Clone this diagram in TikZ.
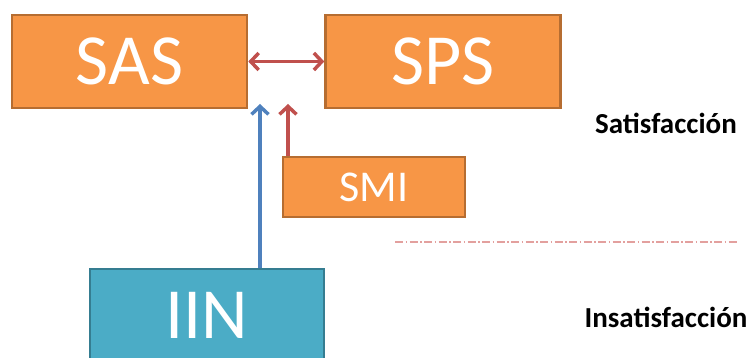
\documentclass[tikz,border=0pt]{standalone}
\usepackage{fontspec}
\setmainfont{Carlito}
\usepackage{tikz}
\usetikzlibrary{arrows.meta,positioning}
\definecolor{boxorange}{HTML}{F79646}
\definecolor{edgeorange}{HTML}{B66D31}
\definecolor{boxteal}{HTML}{4BACC6}
\definecolor{edgeteal}{HTML}{357D91}
\definecolor{arrowblue}{HTML}{4F81BD}
\definecolor{arrowred}{HTML}{C0504D}
\definecolor{splitpink}{HTML}{E3A09E}

\begin{document}
\begin{tikzpicture}[
    x=1pt, y=1pt,
    block/.style={draw=edgeorange, fill=boxorange, line width=2.6pt,
                  minimum width=235pt, minimum height=93pt, inner sep=0pt,
                  text=white, font=\fontsize{72}{72}\selectfont},
    level/.style={font=\fontsize{29}{29}\selectfont\bfseries, anchor=base},
    link/.style={line width=3.5pt},
    >={Straight Barb[length=8pt,width=17pt,line width=3.5pt]},
]
  \useasboundingbox (0,0) rectangle (753,358);

  % boxes
  \node[block] (SAS) at (129.5,296.5) {SAS};
  \node[block, right=76pt of SAS] (SPS) {SPS};
  \node[block, minimum width=182pt, minimum height=60pt,
        font=\fontsize{44}{44}\selectfont] (SMI) at (374,171) {SMI};
  \node[block, draw=edgeteal, fill=boxteal, minimum width=234pt] (IIN) at (207,42.5) {IIN};

  % arrow tips
  \coordinate (tipB) at (260,254);
  \coordinate (tipR) at (288,254);

  % arrows
  \draw[<->, arrowred, link] (SAS.east) -- (SPS.west);
  \draw[->, arrowblue, link] (IIN.north -| tipB) -- (tipB);
  \draw[->, arrowred, link] (SMI.north -| tipR) -- (tipR);

  % split line
  \coordinate (splitA) at (395,116);
  \coordinate (splitB) at (738,116);
  \draw[splitpink, line width=1.6pt, dash pattern=on 8pt off 2.5pt on 1.5pt off 2.5pt] (splitA) -- (splitB);

  % labels
  \node[level] (sat) at (666,224) {Satisfacción};
  \node[level] (insat) at (666,30) {Insatisfacción};
\end{tikzpicture}
\end{document}
